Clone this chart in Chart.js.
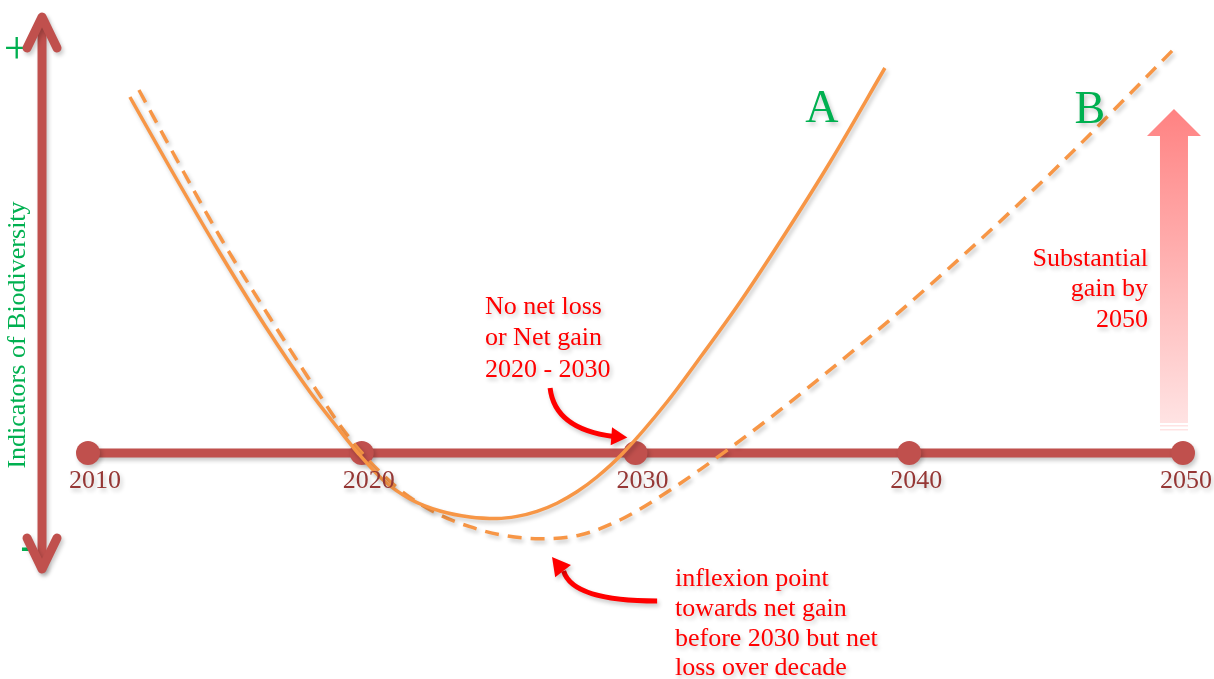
<!DOCTYPE html>
<html>
<head>
<meta charset="utf-8">
<script src="https://cdn.jsdelivr.net/npm/chart.js@4.4.1/dist/chart.umd.min.js"></script>
<style>
  html, body { margin: 0; padding: 0; background: #ffffff; }
  #wrap { width: 1214px; height: 679px; position: relative; }
</style>
</head>
<body>
<div id="wrap"><canvas id="bioChart"></canvas></div>
<script>
// decade markers on the time line
const axisYears = [2010, 2020, 2030, 2040, 2050];
const axisLabels = ['2010', '2020', '2030', '2040', '2050'];

// scenario A (solid)
const pathAYears = [2011.53, 2013.00, 2014.64, 2016.47, 2018.11, 2019.21, 2019.86, 2020.78, 2021.76, 2022.86,
                    2023.95, 2024.94, 2025.67, 2026.40, 2027.13, 2027.86, 2028.59, 2029.51, 2031.15, 2032.43,
                    2033.82, 2035.46, 2037.11, 2039.11];
const pathAValues = [35.6, 28.5, 20.8, 12.7, 6.1, 2.2, 0, -2.7, -4.6, -5.8,
                     -6.4, -6.55, -6.34, -5.84, -5.02, -3.88, -2.4, -0.1, 5.1, 9.8,
                     15.1, 21.9, 29.1, 38.5];

// scenario B (dashed)
const pathBYears = [2011.86, 2013.29, 2014.89, 2016.65, 2018.22, 2019.28, 2020.01, 2021.40, 2022.86, 2023.95,
                    2025.05, 2026.51, 2027.97, 2029.43, 2030.89, 2032.36, 2034.55, 2036.74, 2039.66, 2042.58,
                    2045.51, 2048.06, 2049.63];
const pathBValues = [36.3, 29.1, 21.3, 13.5, 6.8, 2.5, 0, -3.7, -6.2, -7.37,
                     -8.17, -8.57, -8.2, -6.7, -4.38, -1.66, 2.75, 7.49, 14.17, 21.29,
                     28.89, 35.92, 40.3];

const orange = '#f79646';
const brick = '#c0504d';
const green = '#00b050';
const red = '#ff0000';
const serif = '"Liberation Serif", "Times New Roman", serif';

function toPoints(xs, ys) {
    return xs.map((x, i) => ({ x: x, y: ys[i] }));
}

const shadowPlugin = {
    id: 'shadow',
    beforeDatasetsDraw(chart) {
        const ctx = chart.ctx;
        ctx.save();
        ctx.shadowColor = 'rgba(0,0,0,0.22)';
        ctx.shadowBlur = 4;
        ctx.shadowOffsetX = 2;
        ctx.shadowOffsetY = 3;
    },
    afterDatasetsDraw(chart) {
        chart.ctx.restore();
    }
};

function arrowHead(ctx, tip, from, len, half, color) {
    const ang = Math.atan2(tip.y - from.y, tip.x - from.x);
    const bx = tip.x - Math.cos(ang) * len, by = tip.y - Math.sin(ang) * len;
    ctx.fillStyle = color;
    ctx.beginPath();
    ctx.moveTo(tip.x, tip.y);
    ctx.lineTo(bx + Math.sin(ang) * half, by - Math.cos(ang) * half);
    ctx.lineTo(bx - Math.sin(ang) * half, by + Math.cos(ang) * half);
    ctx.closePath();
    ctx.fill();
}

const decorPlugin = {
    id: 'decor',
    beforeDatasetsDraw(chart) {
        const ctx = chart.ctx;
        const xs = chart.scales.x, ys = chart.scales.y;
        const P = (a, b) => ({ x: xs.getPixelForValue(a), y: ys.getPixelForValue(b) });

        // plus / minus marks and axis title
        ctx.save();
        ctx.fillStyle = green;
        ctx.font = '46px ' + serif;
        ctx.textAlign = 'center';
        ctx.textBaseline = 'middle';
        let p = P(2007.40, 40.2);
        ctx.fillText('+', p.x, p.y);
        p = P(2007.80, -9.5);
        ctx.fillText('-', p.x, p.y);

        p = P(2007.44, 11.8);
        ctx.translate(p.x, p.y);
        ctx.rotate(-Math.PI / 2);
        ctx.font = '26px ' + serif;
        ctx.fillText('Indicators of Biodiversity', 0, 0);
        ctx.restore();

        // vertical double arrow
        ctx.save();
        ctx.shadowColor = 'rgba(0,0,0,0.22)';
        ctx.shadowBlur = 4;
        ctx.shadowOffsetX = 2;
        ctx.shadowOffsetY = 3;
        ctx.strokeStyle = brick;
        ctx.lineWidth = 9;
        ctx.lineCap = 'round';
        ctx.lineJoin = 'round';
        const top = P(2008.32, 43.6), bot = P(2008.32, -11.6);
        ctx.beginPath();
        ctx.moveTo(top.x, top.y + 2);
        ctx.lineTo(bot.x, bot.y - 2);
        ctx.stroke();
        ctx.beginPath();
        ctx.moveTo(top.x - 15, top.y + 31);
        ctx.lineTo(top.x, top.y);
        ctx.lineTo(top.x + 15, top.y + 31);
        ctx.stroke();
        ctx.beginPath();
        ctx.moveTo(bot.x - 15, bot.y - 31);
        ctx.lineTo(bot.x, bot.y);
        ctx.lineTo(bot.x + 15, bot.y - 31);
        ctx.stroke();
        ctx.restore();

        // gradient "gain" arrow
        ctx.save();
        const tip = P(2049.67, 34.4), base = P(2049.67, 31.7), foot = P(2049.67, 3.0);
        const grad = ctx.createLinearGradient(0, tip.y, 0, foot.y);
        grad.addColorStop(0, '#ff8282');
        grad.addColorStop(1, '#ffe3e3');
        ctx.fillStyle = grad;
        ctx.beginPath();
        ctx.moveTo(tip.x, tip.y);
        ctx.lineTo(tip.x + 27, base.y);
        ctx.lineTo(tip.x + 14, base.y);
        ctx.lineTo(tip.x + 14, foot.y);
        ctx.lineTo(tip.x - 14, foot.y);
        ctx.lineTo(tip.x - 14, base.y);
        ctx.lineTo(tip.x - 27, base.y);
        ctx.closePath();
        ctx.fill();
        ctx.fillStyle = '#ffe3e3';
        ctx.fillRect(tip.x - 14, foot.y + 2, 28, 1.5);
        ctx.fillRect(tip.x - 14, foot.y + 6, 28, 1.5);
        ctx.restore();
    },
    afterDatasetsDraw(chart) {
        const ctx = chart.ctx;
        const xs = chart.scales.x, ys = chart.scales.y;
        const P = (a, b) => ({ x: xs.getPixelForValue(a), y: ys.getPixelForValue(b) });

        // year labels under the time line
        ctx.save();
        ctx.fillStyle = '#953735';
        ctx.font = '26px ' + serif;
        ctx.textAlign = 'center';
        ctx.textBaseline = 'alphabetic';
        axisYears.forEach((yr, i) => {
            const q = P(yr, -3.5);
            const w = ctx.measureText(axisLabels[i]).width;
            const cx = Math.min(q.x + 7, chart.width - 2 - w / 2);
            ctx.fillText(axisLabels[i], cx, q.y);
        });

        // scenario letters
        ctx.fillStyle = green;
        ctx.font = '46px ' + serif;
        let q = P(2036.81, 33.1);
        ctx.fillText('A', q.x, q.y);
        q = P(2046.60, 33.0);
        ctx.fillText('B', q.x, q.y);

        // red notes
        ctx.fillStyle = red;
        ctx.font = '26px ' + serif;
        ctx.textAlign = 'left';
        const note1 = ['No net loss', 'or Net gain', '2020 - 2030'];
        const note1Y = [13.9, 10.8, 7.6];
        note1.forEach((t, i) => { const r = P(2024.50, note1Y[i]); ctx.fillText(t, r.x, r.y); });

        const note2 = ['inflexion point', 'towards net gain', 'before 2030 but net', 'loss over decade'];
        const note2Y = [-13.3, -16.3, -19.3, -22.2];
        note2.forEach((t, i) => { const r = P(2031.44, note2Y[i]); ctx.fillText(t, r.x, r.y); });

        ctx.textAlign = 'right';
        const note3 = ['Substantial', 'gain by', '2050'];
        const note3Y = [18.7, 15.7, 12.6];
        note3.forEach((t, i) => { const r = P(2048.72, note3Y[i]); ctx.fillText(t, r.x, r.y); });

        // curved pointer arrows
        ctx.strokeStyle = red;
        ctx.lineWidth = 5;
        ctx.lineCap = 'butt';
        let s = P(2026.88, 6.5), c = P(2027.05, 2.4), e = P(2029.12, 1.65), t = P(2029.70, 1.55);
        ctx.beginPath();
        ctx.moveTo(s.x, s.y);
        ctx.quadraticCurveTo(c.x, c.y, e.x + 2, e.y);
        ctx.stroke();
        arrowHead(ctx, t, { x: e.x - 10, y: e.y - 1 }, 16, 9, red);

        s = P(2030.79, -14.8); c = P(2027.70, -14.8); e = P(2027.30, -11.6); t = P(2026.95, -10.4);
        ctx.beginPath();
        ctx.moveTo(s.x, s.y);
        ctx.quadraticCurveTo(c.x, c.y, e.x + 2, e.y + 2);
        ctx.stroke();
        arrowHead(ctx, t, { x: e.x + 6, y: e.y + 8 }, 18, 10, red);
        ctx.restore();
    }
};

const ctx = document.getElementById('bioChart').getContext('2d');
new Chart(ctx, {
    type: 'line',
    data: {
        datasets: [
            {
                label: 'A',
                data: toPoints(pathAYears, pathAValues),
                borderColor: orange,
                borderWidth: 3.5,
                pointRadius: 0,
                fill: false,
                cubicInterpolationMode: 'monotone'
            },
            {
                label: 'B',
                data: toPoints(pathBYears, pathBValues),
                borderColor: orange,
                borderWidth: 3.5,
                borderDash: [14, 9],
                pointRadius: 0,
                fill: false,
                cubicInterpolationMode: 'monotone'
            },
            {
                label: 'Timeline',
                data: axisYears.map(y => ({ x: y, y: 0 })),
                borderColor: brick,
                borderWidth: 9,
                pointRadius: 12,
                pointBackgroundColor: brick,
                pointBorderWidth: 0,
                fill: false,
                tension: 0
            }
        ]
    },
    options: {
        responsive: true,
        maintainAspectRatio: false,
        animation: false,
        layout: { padding: 0, autoPadding: false },
        plugins: {
            legend: { display: false },
            tooltip: { enabled: false }
        },
        scales: {
            x: { type: 'linear', display: false, min: 2006.785, max: 2051.132 },
            y: { type: 'linear', display: false, min: -22.6, max: 45.3 }
        }
    },
    plugins: [decorPlugin, shadowPlugin]
});
</script>
</body>
</html>
